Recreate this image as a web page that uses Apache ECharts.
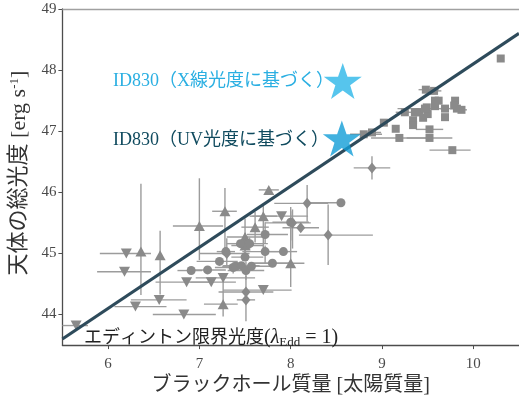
<!DOCTYPE html>
<html>
<head>
<meta charset="utf-8">
<script src="https://cdn.jsdelivr.net/npm/echarts@6/dist/echarts.min.js"></script>
<style>
  html, body { margin: 0; padding: 0; background: #fff; }
  #chart { width: 519px; height: 401px; }
</style>
</head>
<body>
<div id="chart"></div>
<script>
// Each sample: [log M_BH, log L_bol, xErrLow, xErrHigh, yErrLow, yErrHigh]
const trianglesDown = [
  [5.65, 43.82, 0.15, 0.13, 0, 0],
  [6.20, 45.00, 0.29, 0.27, 0, 0],
  [6.18, 44.70, 0.30, 0.29, 0, 0],
  [6.30, 44.13, 0.23, 0.34, 0, 0],
  [6.56, 44.24, 0.31, 0.30, 0, 0],
  [6.83, 44.00, 0.34, 0.35, 0, 0],
  [6.86, 44.53, 0.34, 0.25, 0, 0],
  [7.13, 44.53, 0.23, 0.27, 0, 0],
  [7.26, 44.60, 0.30, 0.35, 0, 0],
  [7.70, 44.40, 0.44, 0.31, 0, 0],
  [7.90, 45.61, 0.32, 0.29, 0, 0]
];
const trianglesUp = [
  [6.36, 45.03, 0, 0, 0.71, 1.11],
  [6.57, 44.97, 0, 0, 0.64, 0.40],
  [7.00, 45.45, 0.29, 0.26, 0.56, 0.78],
  [7.28, 45.69, 0.14, 0.13, 0.60, 0.38],
  [7.50, 45.27, 0.20, 0.25, 0.30, 0.30],
  [7.61, 45.43, 0.15, 0.15, 0.25, 0.25],
  [7.50, 45.13, 0.15, 0.20, 0.20, 0.20],
  [7.70, 45.61, 0.15, 0.15, 0.55, 0.20],
  [7.76, 46.04, 0.11, 0.11, 0, 0],
  [8.00, 44.84, 0.40, 0.15, 0.39, 0.85],
  [7.26, 44.17, 0.21, 0.16, 0.20, 0.45]
];
const circles = [
  [6.91, 44.72, 0.15, 0.12, 0, 0],
  [7.09, 44.73, 0.18, 0.20, 0, 0],
  [7.22, 44.87, 0.25, 0.20, 0, 0],
  [7.29, 45.03, 0.10, 0.10, 0, 0],
  [7.37, 44.77, 0.20, 0.20, 0.10, 0.10],
  [7.40, 44.79, 0.15, 0.15, 0, 0],
  [7.46, 44.80, 0.20, 0.20, 0, 0],
  [7.51, 44.72, 0.20, 0.20, 0.15, 0.15],
  [7.57, 44.79, 0.20, 0.25, 0, 0],
  [7.45, 45.16, 0.15, 0.15, 0, 0],
  [7.55, 45.16, 0.15, 0.20, 0.10, 0.10],
  [7.50, 44.94, 0.15, 0.20, 0, 0],
  [7.72, 45.31, 0.20, 0.25, 0.15, 0.20],
  [7.72, 45.03, 0.25, 0.25, 0.20, 0.10],
  [7.92, 45.03, 0.15, 0.15, 0, 0],
  [7.80, 44.84, 0.25, 0.20, 0, 0],
  [8.00, 45.51, 0.20, 0.20, 0.30, 0.25],
  [8.55, 45.83, 0.35, 0, 0, 0]
];
const diamonds = [
  [7.30, 45.00, 0.30, 0.25, 0.20, 0.25],
  [7.51, 44.24, 0.10, 0.10, 0.35, 0.40],
  [7.51, 44.37, 0.30, 0.30, 0, 0],
  [8.18, 45.82, 0.36, 0.23, 0.30, 0.30],
  [8.41, 45.30, 0.32, 0.49, 0.49, 0.50],
  [8.02, 45.50, 0.30, 0.20, 0.42, 0.22],
  [8.11, 45.42, 0.20, 0.20, 0, 0],
  [8.89, 46.40, 0.20, 0.20, 0.19, 0.19]
];
const squares = [
  [10.30, 48.19, 0, 0, 0, 0],
  [9.48, 47.68, 0.08, 0.14, 0, 0],
  [9.57, 47.66, 0.08, 0.08, 0, 0],
  [9.58, 47.50, 0, 0, 0, 0],
  [9.62, 47.50, 0, 0, 0, 0],
  [9.58, 47.41, 0, 0, 0, 0],
  [9.80, 47.50, 0, 0, 0, 0],
  [9.79, 47.42, 0, 0, 0, 0],
  [9.69, 47.37, 0.06, 0.06, 0, 0],
  [9.82, 47.37, 0, 0, 0, 0],
  [9.87, 47.35, 0.05, 0.06, 0, 0],
  [9.49, 47.39, 0, 0, 0, 0],
  [9.41, 47.31, 0, 0, 0, 0],
  [9.36, 47.31, 0, 0, 0, 0],
  [9.50, 47.28, 0, 0, 0, 0],
  [9.45, 47.22, 0, 0, 0, 0],
  [9.69, 47.23, 0, 0, 0, 0],
  [9.25, 47.31, 0.10, 0.20, 0, 0],
  [9.34, 47.18, 0, 0, 0, 0],
  [9.34, 47.10, 0, 0, 0, 0],
  [9.02, 47.14, 0, 0, 0, 0],
  [9.15, 47.04, 0, 0, 0, 0],
  [8.89, 46.98, 0.10, 0.10, 0, 0],
  [8.80, 46.95, 0.15, 0.20, 0, 0],
  [9.52, 47.03, 0.15, 0.15, 0, 0],
  [9.19, 46.89, 0.31, 0.30, 0, 0],
  [9.52, 46.89, 0.25, 0.25, 0, 0],
  [9.77, 46.69, 0.25, 0.20, 0, 0],
  [9.47, 47.37, 0.30, 0.20, 0, 0]
];

// ID830 estimates
const id830Xray = [[8.57, 47.82]];
const id830UV = [[8.56, 46.88]];

// Eddington limit, lambda_Edd = 1
const eddingtonLine = [[5.5, 43.6], [10.5, 48.6]];

const xTicks = [6, 7, 8, 9, 10];
const yTicks = [44, 45, 46, 47, 48, 49];

const GREY = '#8a8a8a';
const BAR = '#9c9c9c';
const SERIF = '"Liberation Serif", "DejaVu Serif", "Noto Sans CJK JP", serif';
const JP = '"Liberation Serif", "Noto Sans CJK JP", serif';

const STAR = 'path://M50,0 L61.8,34.5 L97.6,34.5 L68.5,55.9 L79.4,90.5 L50,69.1 L20.6,90.5 L31.5,55.9 L2.4,34.5 L38.2,34.5 Z';

function errorBars(params, api) {
  const x = api.value(0), y = api.value(1);
  const xl = api.value(2), xh = api.value(3), yl = api.value(4), yh = api.value(5);
  const kids = [];
  const st = { stroke: BAR, lineWidth: 1.4 };
  if (xl || xh) {
    const a = api.coord([x - xl, y]), b = api.coord([x + xh, y]);
    kids.push({ type: 'line', shape: { x1: a[0], y1: a[1], x2: b[0], y2: b[1] }, style: st });
  }
  if (yl || yh) {
    const a = api.coord([x, y - yl]), b = api.coord([x, y + yh]);
    kids.push({ type: 'line', shape: { x1: a[0], y1: a[1], x2: b[0], y2: b[1] }, style: st });
  }
  return { type: 'group', children: kids };
}

function barSeries(data) {
  return {
    type: 'custom', data: data, renderItem: errorBars, z: 2, silent: true,
    encode: { x: 0, y: 1 }, clip: true
  };
}
function markSeries(data, symbol, size, rotate) {
  return {
    type: 'scatter', data: data.map(d => [d[0], d[1]]), symbol: symbol,
    symbolSize: size, symbolRotate: rotate || 0, z: 3, silent: true,
    itemStyle: { color: GREY, opacity: 1 }
  };
}

const chart = echarts.init(document.getElementById('chart'), null, { renderer: 'canvas' });

const axisLabelStyle = { color: '#4a4a4a', fontFamily: SERIF, fontSize: 15 };

chart.setOption({
  animation: false,
  grid: { left: 57, top: 9, width: 464, height: 345, containLabel: false },
  xAxis: [{
    type: 'value', min: 5.5, max: 10.5, interval: 0.5,
    axisLine: { show: true, onZero: false, lineStyle: { color: '#4d4d4d', width: 1.3 } },
    axisTick: { show: true, length: 4, lineStyle: { color: '#4d4d4d' },
      customValues: xTicks },
    axisLabel: Object.assign({ margin: 11, customValues: xTicks }, axisLabelStyle),
    splitLine: { show: false },
    name: 'ブラックホール質量 [太陽質量]', nameLocation: 'middle', nameGap: 26,
    nameTextStyle: { fontFamily: JP, fontSize: 20, color: '#333' }
  }, {
    type: 'value', position: 'top', min: 5.5, max: 10.5,
    axisLine: { show: true, onZero: false, lineStyle: { color: '#a0a0a0', width: 1.3 } },
    axisTick: { show: false }, axisLabel: { show: false }, splitLine: { show: false }
  }],
  yAxis: {
    type: 'value', min: 43.5, max: 49, interval: 0.5,
    axisLine: { show: true, onZero: false, lineStyle: { color: '#4d4d4d', width: 1.3 } },
    axisTick: { show: true, length: 4, lineStyle: { color: '#4d4d4d' },
      customValues: yTicks },
    axisLabel: Object.assign({ margin: 6, customValues: yTicks }, axisLabelStyle),
    splitLine: { show: false },
    name: '{m|天体の総光度 [erg s}{s|-1}{m|]}', nameLocation: 'middle', nameGap: 27, nameRotate: 90,
    nameTextStyle: {
      padding: [0, 0, 0, 8],
      rich: {
        m: { fontFamily: JP, fontSize: 22, color: '#333' },
        s: { fontFamily: SERIF, fontSize: 13, color: '#333', verticalAlign: 'top', padding: [0, 0, 10, 0] }
      }
    }
  },
  series: [
    barSeries(trianglesDown), barSeries(trianglesUp), barSeries(circles),
    barSeries(diamonds), barSeries(squares),
    markSeries(trianglesDown, 'triangle', [11, 10], 180),
    markSeries(trianglesUp, 'triangle', [11, 10], 0),
    markSeries(circles, 'circle', 9),
    markSeries(diamonds, 'diamond', [9, 11]),
    markSeries(squares, 'rect', 8),
    {
      type: 'line', data: eddingtonLine, symbol: 'none', z: 4, silent: true,
      lineStyle: { color: '#2e4b5b', width: 3.2 }
    },
    {
      type: 'scatter', data: id830Xray, symbol: STAR, symbolSize: [38, 36], z: 5,
      itemStyle: { color: '#2cb7e8' }
    },
    {
      type: 'scatter', data: id830UV, symbol: STAR, symbolSize: [38, 36], z: 5,
      itemStyle: { color: '#129ed7' }
    }
  ],
  graphic: [
    {
      type: 'text', left: 113, top: 72, z: 10,
      style: { text: 'ID830（X線光度に基づく）', font: '18px ' + JP, fill: '#2aafe2' }
    },
    {
      type: 'text', left: 113, top: 131, z: 10,
      style: { text: 'ID830（UV光度に基づく）', font: '18px ' + JP, fill: '#0f4a5e' }
    },
    {
      type: 'text', left: 84, top: 328, z: 10,
      style: {
        text: '{a|エディントン限界光度}{b|(}{l|λ}{e|Edd}{b| = 1)}',
        rich: {
          a: { fontFamily: JP, fontSize: 18, fill: '#222' },
          b: { fontFamily: SERIF, fontSize: 20, fill: '#222' },
          l: { fontFamily: SERIF, fontSize: 20, fill: '#222', fontStyle: 'italic' },
          e: { fontFamily: SERIF, fontSize: 13, fill: '#222', verticalAlign: 'bottom', padding: [9, 0, 0, 0] }
        }
      }
    }
  ]
});
</script>
</body>
</html>
